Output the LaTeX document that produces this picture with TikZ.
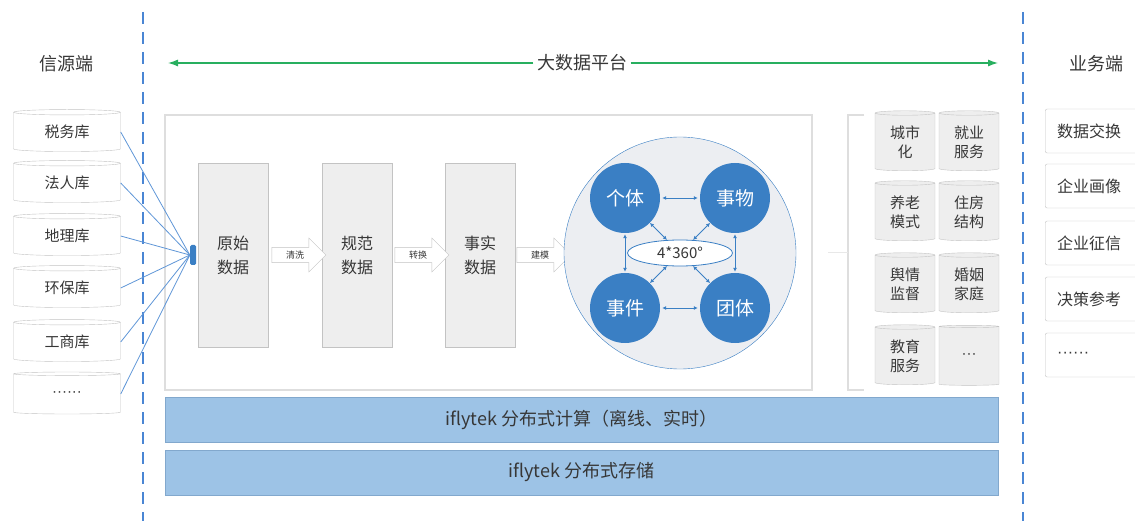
\documentclass[tikz,border=0pt]{standalone}
\usepackage{fontspec}
\setmainfont{Noto Sans CJK SC}
\newfontfamily\dotfont{Liberation Sans}
\usepackage{xcolor}
\usetikzlibrary{shapes.geometric,shapes.arrows,arrows.meta}

\definecolor{dashblue}{RGB}{74,134,212}
\definecolor{feedblue}{RGB}{95,150,215}
\definecolor{ballblue}{RGB}{58,127,196}
\definecolor{barblue}{RGB}{157,195,230}
\definecolor{baredge}{RGB}{130,168,205}
\definecolor{platgreen}{RGB}{40,175,95}
\definecolor{boxgray}{RGB}{238,238,238}
\definecolor{edgegray}{RGB}{195,195,195}
\definecolor{panelgray}{RGB}{222,222,222}
\definecolor{inkgray}{RGB}{55,55,55}
\definecolor{coregray}{RGB}{236,238,242}

\tikzset{
	src/.style={cylinder, shape border rotate=90, aspect=0.12, draw=edgegray, fill=white,
		minimum width=107pt, minimum height=42pt, inner sep=0pt, text=inkgray,
		font=\fontsize{15}{15}\selectfont},
	topic/.style={cylinder, shape border rotate=90, aspect=0.15, draw=edgegray, fill=boxgray,
		minimum width=60pt, minimum height=60pt, inner sep=0pt, align=center, text=inkgray,
		font=\fontsize{15}{19}\selectfont},
	stage/.style={rectangle, draw=edgegray, fill=boxgray, minimum width=70pt, minimum height=184pt,
		align=center, text=inkgray, font=\fontsize{16}{24}\selectfont},
	flow/.style={single arrow, draw=edgegray, fill=white, minimum height=54pt, minimum width=34pt,
		single arrow head extend=9pt, inner sep=3pt, text=inkgray, font=\fontsize{9}{9}\selectfont},
	entity/.style={circle, fill=ballblue, minimum size=70pt, inner sep=0pt, text=white,
		font=\fontsize{19}{19}\selectfont},
	link/.style={draw=ballblue, line width=0.8pt, {Latex[length=4pt,width=4pt]}-{Latex[length=4pt,width=4pt]}},
	service/.style={rectangle, rounded corners=2pt, draw=edgegray, fill=white, minimum height=44pt,
		text width=90pt, inner xsep=12pt, align=left, text=inkgray, font=\fontsize{16}{16}\selectfont},
	layer/.style={rectangle, draw=baredge, fill=barblue, minimum width=833pt, minimum height=45pt,
		text=inkgray, font=\fontsize{18}{18}\selectfont},
	title/.style={text=inkgray, font=\fontsize{18}{18}\selectfont},
	bound/.style={draw=dashblue, line width=2.6pt, dash pattern=on 12pt off 8pt},
	feed/.style={draw=feedblue, line width=0.8pt}
}

\begin{document}
\begin{tikzpicture}[x=1pt,y=-1pt]
		\useasboundingbox (0,0) rectangle (1135,521);
		\clip (0,0) rectangle (1135,521);

		\draw [bound] (143,12) -- (143,521);
		\draw [bound] (1023,12) -- (1023,521);

		\node (srcT) [title] at (66,64) {信源端};
		\node (plat) [title] at (582,63) {大数据平台};
		\node (bizT) [title] at (1096,64) {业务端};

		\coordinate (gL) at (168,63);
		\coordinate (gR) at (998,63);
		\draw [platgreen, line width=1.2pt, -{Latex[length=10pt,width=7pt]}] (plat.west) -- (gL);
		\draw [platgreen, line width=1.2pt, -{Latex[length=10pt,width=7pt]}] (plat.east) -- (gR);

		\draw [panelgray, line width=1.5pt, fill=white] (165,115) rectangle (812,390);
		\draw [panelgray, line width=1.2pt] (864,115) -| (848,390) -- (864,390);
		\draw [panelgray!70, line width=1pt] (828,253) -- (848,253);

		\node (tax) [src] at (67,132) {税务库};
		\node (legal) [src] at (67,183) {法人库};
		\node (geo) [src] at (67,236) {地理库};
		\node (env) [src] at (67,288) {环保库};
		\node (biz) [src] at (67,342) {工商库};
		\node (more) [src] at (67,394) {\dotfont ······};

		\node (hub) [fill=ballblue, rounded corners=1.5pt, minimum width=6pt, minimum height=20pt, inner sep=0pt] at (193,255) {};
		\draw [feed] (tax.east) -- (hub.west);
		\draw [feed] (legal.east) -- (hub.west);
		\draw [feed] (geo.east) -- (hub.west);
		\draw [feed] (env.east) -- (hub.west);
		\draw [feed] (biz.east) -- (hub.west);
		\draw [feed] (more.east) -- (hub.west);

		\node (raw) [stage] at (233,255) {原始\\数据};
		\node (norm) [stage] at (357,255) {规范\\数据};
		\node (fact) [stage] at (480,255) {事实\\数据};

		\node (clean) [flow] at (295,255) {清洗};
		\node (conv) [flow] at (418,255) {转换};
		\node (model) [flow] at (540,255) {建模};

		\node (core) [circle, draw=ballblue, fill=coregray, minimum size=232pt] at (680,253) {};
		\node (person) [entity] at (625,198) {个体};
		\node (thing) [entity] at (735,198) {事物};
		\node (event) [entity] at (625,308) {事件};
		\node (group) [entity] at (735,308) {团体};
		\node (view) [ellipse, draw=ballblue, line width=0.8pt, fill=white, minimum width=105pt, minimum height=26pt,
			inner sep=0pt, text=inkgray, font=\fontsize{15}{15}\selectfont] at (680,253) {4*360°};

		\draw [link, shorten <=2pt, shorten >=2pt] (person) -- (thing);
		\draw [link, shorten <=2pt, shorten >=2pt] (event) -- (group);
		\draw [link, shorten <=1pt, shorten >=1pt] (person) -- (event);
		\draw [link, shorten <=1pt, shorten >=1pt] (thing) -- (group);
		\draw [link] (view) -- (person);
		\draw [link] (view) -- (thing);
		\draw [link] (view) -- (event);
		\draw [link] (view) -- (group);

		\node (city) [topic] at (905,142) {城市\\化};
		\node (job) [topic] at (969,142) {就业\\服务};
		\node (aged) [topic] at (905,212) {养老\\模式};
		\node (house) [topic] at (969,212) {住房\\结构};
		\node (opinion) [topic] at (905,284) {舆情\\监督};
		\node (family) [topic] at (969,284) {婚姻\\家庭};
		\node (edu) [topic] at (905,356) {教育\\服务};
		\node (etc) [topic] at (969,356) {\dotfont ···};

		\node (calc) [layer] at (581.5,419.5) {iflytek 分布式计算（离线、实时）};
		\node (store) [layer] at (581.5,472.5) {iflytek 分布式存储};

		\node (swap) [service, anchor=west] at (1045,131) {数据交换};
		\node (portrait) [service, anchor=west] at (1045,186) {企业画像};
		\node (credit) [service, anchor=west] at (1045,243) {企业征信};
		\node (decide) [service, anchor=west] at (1045,299) {决策参考};
		\node (others) [service, anchor=west] at (1045,355) {\dotfont ······};
	\end{tikzpicture}
\end{document}
